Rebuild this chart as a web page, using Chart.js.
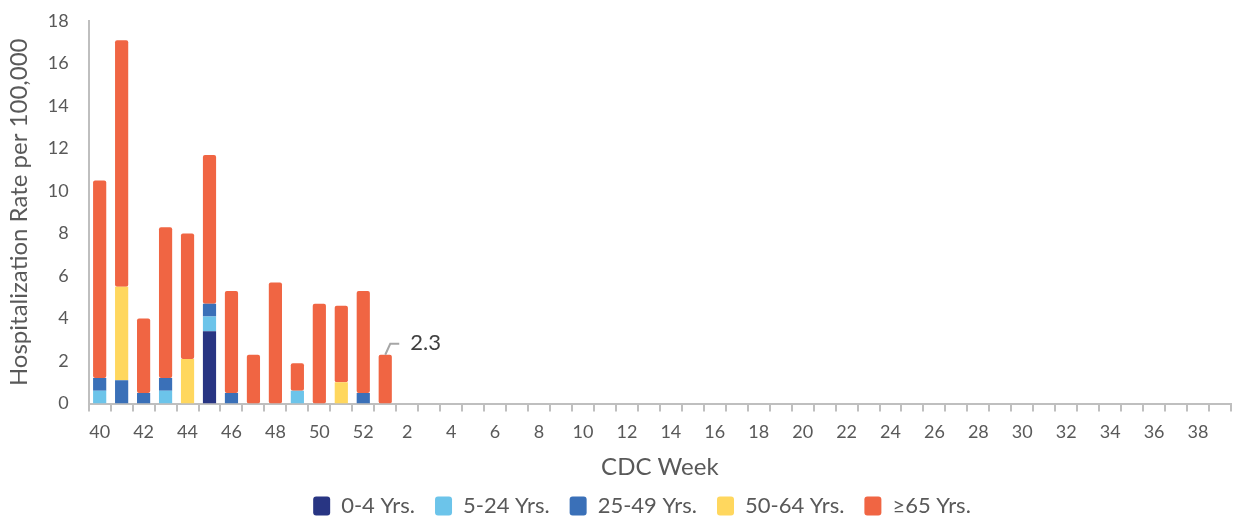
<!DOCTYPE html>
<html>
<head>
<meta charset="utf-8">
<script src="https://cdn.jsdelivr.net/npm/chart.js@4"></script>
<style>
  html, body { margin: 0; padding: 0; background: #fff; }
  #wrap { width: 1239px; height: 518px; position: relative; }
</style>
</head>
<body>
<div id="wrap"><canvas id="myChart"></canvas></div>
<script>
// CDC weeks 40..52 then 1..39
const weeks = [40,41,42,43,44,45,46,47,48,49,50,51,52,
  1,2,3,4,5,6,7,8,9,10,11,12,13,14,15,16,17,18,19,20,21,22,23,24,25,26,27,28,29,30,31,32,33,34,35,36,37,38,39];

// values per 100,000 (only weeks 40 - 1 reported)
const age0_4   = [0,   0,   0,   0,   0,   3.4, 0,   0,   0,   0,   0,   0,   0,   0];
const age5_24  = [0.6, 0,   0,   0.6, 0,   0.7, 0,   0,   0,   0.6, 0,   0,   0,   0];
const age25_49 = [0.6, 1.1, 0.5, 0.6, 0,   0.6, 0.5, 0,   0,   0,   0,   0,   0.5, 0];
const age50_64 = [0,   4.4, 0,   0,   2.1, 0,   0,   0,   0,   0,   0,   1.0, 0,   0];
const age65    = [9.3, 11.6,3.5, 7.1, 5.9, 7.0, 4.8, 2.3, 5.7, 1.3, 4.7, 3.6, 4.8, 2.3];

const seriesNames = ['0-4 Yrs.', '5-24 Yrs.', '25-49 Yrs.', '50-64 Yrs.', '\u226565 Yrs.'];
const seriesColors = ['#283583', '#6cc4ea', '#3a70b8', '#ffd75e', '#f06543'];
const yTicks = [0,2,4,6,8,10,12,14,16,18];

const lastLabel = '2.3';
const lastIdx = 13;

const font = "Lato, 'Open Sans', sans-serif";
const grey = '#595959';

var allSeries = [age0_4, age5_24, age25_49, age50_64, age65];
var datasets = allSeries.map(function(vals, i){
  return {
    label: seriesNames[i],
    data: vals,
    backgroundColor: seriesColors[i],
    borderWidth: 0,
    borderRadius: 2,
    borderSkipped: false,
    categoryPercentage: 1.0,
    barPercentage: 0.6
  };
});

// leader line + label on the last bar
const callout = {
  id: 'callout',
  afterDatasetsDraw(chart){
    var x = chart.scales.x, y = chart.scales.y;
    var total = 0;
    allSeries.forEach(function(s){ total += s[lastIdx] || 0; });
    var px = x.getPixelForValue(lastIdx), py = y.getPixelForValue(total);
    var ctx = chart.ctx;
    ctx.save();
    ctx.strokeStyle = '#a6a6a6';
    ctx.lineWidth = 2;
    ctx.beginPath();
    ctx.moveTo(px, py);
    ctx.lineTo(px + 5, py - 11);
    ctx.lineTo(px + 14, py - 11);
    ctx.stroke();
    ctx.fillStyle = '#404040';
    ctx.font = '22px ' + font;
    ctx.textBaseline = 'middle';
    ctx.fillText(lastLabel, px + 25, py - 12);
    ctx.restore();
  }
};

// nudge the legend a bit to the right, like the original
const legendShift = {
  id: 'legendShift',
  afterLayout(chart){
    chart.legend.left += 26;
    chart.legend.right += 26;
  }
};

var myChart = new Chart('myChart', {
  type: 'bar',
  data: { labels: weeks, datasets: datasets },
  plugins: [callout, legendShift],
  options: {
    responsive: true,
    maintainAspectRatio: false,
    animation: false,
    layout: { padding: { top: 0, right: 8, left: 1, bottom: -9 } },
    plugins: {
      tooltip: { enabled: false },
      legend: {
        position: 'bottom',
        labels: {
          color: grey,
          font: { family: font, size: 22 },
          boxWidth: 17,
          boxHeight: 19,
          useBorderRadius: true,
          borderRadius: 3,
          padding: 20
        }
      }
    },
    scales: {
      x: {
        stacked: true,
        grid: { display: true, drawOnChartArea: false, offset: true, color: '#bfbfbf', lineWidth: 2, tickLength: 8 },
        border: { display: true, color: '#bfbfbf', width: 2 },
        ticks: {
          autoSkip: false,
          maxRotation: 0,
          color: grey,
          font: { family: font, size: 18 },
          padding: 10,
          callback: function(v, i){ return i % 2 === 0 ? weeks[i] : ''; }
        },
        title: { display: true, text: 'CDC Week', color: grey, font: { family: font, size: 24 }, padding: { top: 0, bottom: -7 } }
      },
      y: {
        stacked: true,
        min: 0,
        max: 18,
        afterBuildTicks: function(ax){ ax.ticks = yTicks.map(function(v){ return { value: v }; }); },
        grid: { display: false },
        border: { display: true, color: '#bfbfbf', width: 2 },
        ticks: { color: grey, font: { family: font, size: 18, lineHeight: 1.0 }, padding: 12 },
        title: { display: true, text: 'Hospitalization Rate per 100,000', color: grey, font: { family: font, size: 24 }, padding: { bottom: 2 } }
      }
    }
  }
});
</script>
</body>
</html>
